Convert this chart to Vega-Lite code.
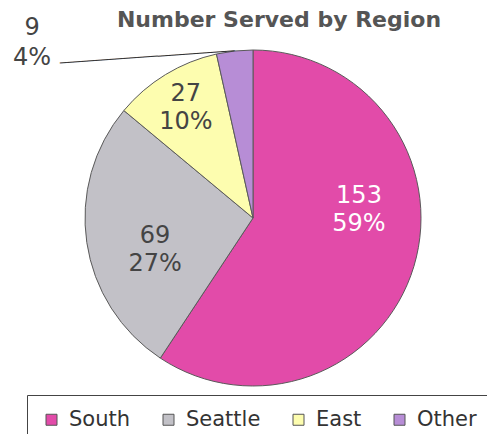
{
  "$schema": "https://vega.github.io/schema/vega-lite/v6.json",
  "width": 506,
  "height": 436,
  "autosize": {"type": "none"},
  "padding": 0,
  "background": "white",
  "title": {
    "text": "Number Served by Region",
    "font": "DejaVu Sans",
    "fontSize": 22,
    "fontWeight": "bold",
    "color": "#555555",
    "anchor": "middle",
    "frame": "group",
    "offset": 0,
    "baseline": "alphabetic",
    "dx": 26,
    "dy": 49
  },
  "config": {"view": {"stroke": null}, "font": "DejaVu Sans"},
  "data": {
    "values": [
      {"region": "South", "count": 153, "pct": "59%"},
      {"region": "Seattle", "count": 69, "pct": "27%"},
      {"region": "East", "count": 27, "pct": "10%"},
      {"region": "Other", "count": 9, "pct": "4%"}
    ]
  },
  "transform": [{"calculate": "datum.count + '\\n' + datum.pct", "as": "label"}],
  "encoding": {
    "theta": {"field": "count", "type": "quantitative", "stack": true},
    "order": {"field": "count", "type": "quantitative", "sort": "descending"}
  },
  "layer": [
    {
      "mark": {"type": "arc", "radius": 168, "stroke": "#5a5a5a", "strokeWidth": 1},
      "encoding": {
        "color": {
          "field": "region",
          "type": "nominal",
          "scale": {
            "domain": ["South", "Seattle", "East", "Other"],
            "range": ["#E24BA9", "#C2C1C7", "#FDFDAF", "#B78DD6"]
          },
          "legend": {
            "orient": "none",
            "legendX": 27,
            "legendY": 395,
            "direction": "horizontal",
            "title": null,
            "symbolType": "square",
            "symbolSize": 121,
            "symbolStrokeColor": "#555555",
            "symbolStrokeWidth": 1,
            "symbolOpacity": 1,
            "labelFont": "DejaVu Sans",
            "labelFontSize": 21,
            "labelColor": "#333333",
            "labelOffset": 7,
            "columnPadding": 27,
            "padding": 14,
            "strokeColor": "#444444",
            "fillColor": "white"
          }
        }
      }
    },
    {
      "mark": {"type": "text", "radius": 106, "dx": 4.5, "dy": -52.5, "color": "white", "fontSize": 24, "lineBreak": "\n", "lineHeight": 28, "align": "center", "baseline": "middle"},
      "encoding": {"text": {"condition": {"test": "datum.region === 'South'", "field": "label"}, "value": ""}}
    },
    {
      "mark": {"type": "text", "radius": 103, "dx": 4, "dy": 3, "color": "#444444", "fontSize": 24, "lineBreak": "\n", "lineHeight": 28, "align": "center", "baseline": "middle"},
      "encoding": {"text": {"condition": {"test": "datum.region === 'Seattle'", "field": "label"}, "value": ""}}
    },
    {
      "mark": {"type": "text", "radius": 129, "dy": -14, "color": "#444444", "fontSize": 24, "lineBreak": "\n", "lineHeight": 28, "align": "center", "baseline": "middle"},
      "encoding": {"text": {"condition": {"test": "datum.region === 'East'", "field": "label"}, "value": ""}}
    },
    {
      "mark": {"type": "text", "radius": 168, "dx": -202.6, "dy": -23, "color": "#444444", "fontSize": 24, "lineBreak": "\n", "lineHeight": 30, "align": "center", "baseline": "middle"},
      "encoding": {"text": {"condition": {"test": "datum.region === 'Other'", "field": "label"}, "value": ""}}
    },
    {
      "mark": {"type": "text", "radius": 168, "dy": -3, "angle": 356, "color": "#333333", "fontSize": 14, "align": "right", "baseline": "alphabetic"},
      "encoding": {"text": {"condition": {"test": "datum.region === 'Other'", "value": "_________________________"}, "value": ""}}
    }
  ]
}
